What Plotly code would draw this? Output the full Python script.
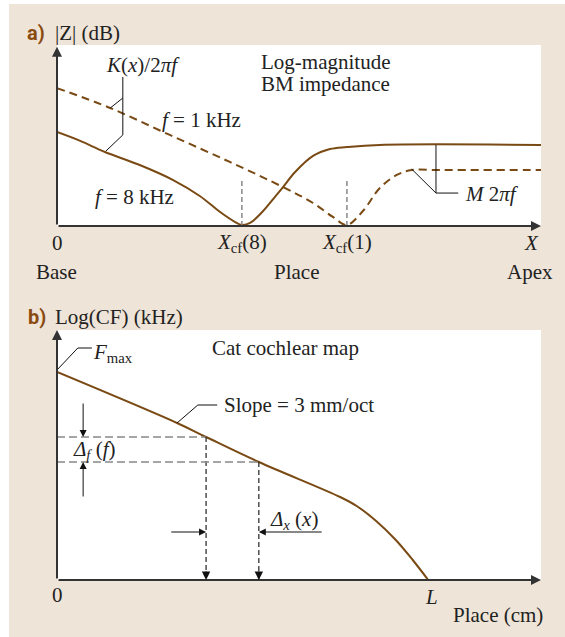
import plotly.graph_objects as go

W, H = 565, 637

# panel a: log-magnitude BM impedance along the cochlea (arbitrary units)
place_8k = [0, 0.48, 0.99, 1.71, 2.40, 2.95, 3.37, 3.68, 3.82, 3.99, 4.24, 4.50,
            4.67, 4.92, 5.29, 5.64, 5.99, 6.67, 10]
z_8k = [5.19, 4.70, 4.09, 3.37, 2.54, 1.66, 0.77, 0.22, 0.06, 0.17, 0.77, 1.60,
        2.15, 2.98, 3.87, 4.25, 4.36, 4.48, 4.48]
place_1k = [0, 1.10, 2.33, 3.57, 4.67, 5.29, 5.70, 5.99, 6.32, 6.67, 7.02, 7.33, 7.91, 10]
z_1k = [7.62, 6.52, 5.03, 3.54, 2.15, 1.27, 0.50, 0.06, 0.83, 2.10, 2.82, 3.09, 3.09, 3.09]
xcf = [3.82, 5.99]
xcf_labels = ['<i>X</i><sub>cf</sub>(8)', '<i>X</i><sub>cf</sub>(1)']

# panel b: cat cochlear map
place_b = [0, 2.48, 3.08, 4.17, 5.85, 6.2, 6.6, 7.0, 7.35, 7.67]
logcf = [8.32, 6.28, 5.72, 4.72, 3.32, 2.95, 2.35, 1.6, 0.8, 0]
x_marks = [3.08, 4.17]
f_marks = [5.72, 4.72]

BROWN = '#7A4A14'
SERIF = 'Liberation Serif'
FS = 21


def px(x):
    return x / W


def py(y):
    return 1 - y / H


fig = go.Figure()

# panel a curves
fig.add_trace(go.Scatter(x=place_1k, y=z_1k, mode='lines', line_shape='spline',
                         line=dict(color=BROWN, width=2, dash='8px,5px'),
                         xaxis='x', yaxis='y'))
fig.add_trace(go.Scatter(x=place_8k, y=z_8k, mode='lines', line_shape='spline',
                         line=dict(color=BROWN, width=2), xaxis='x', yaxis='y'))
for xc in xcf:
    fig.add_trace(go.Scatter(x=[xc, xc], y=[0, 2.54], mode='lines',
                             line=dict(color='#888', width=1.5, dash='5px,3px'),
                             xaxis='x', yaxis='y'))

# panel b curve and marks
fig.add_trace(go.Scatter(x=place_b, y=logcf, mode='lines', line_shape='spline',
                         line=dict(color=BROWN, width=2), xaxis='x2', yaxis='y2'))
for xm, fm in zip(x_marks, f_marks):
    fig.add_trace(go.Scatter(x=[0, xm], y=[fm, fm], mode='lines',
                             line=dict(color='#888', width=1.5, dash='8px,4px'),
                             xaxis='x2', yaxis='y2'))
    fig.add_trace(go.Scatter(x=[xm, xm], y=[fm, 0], mode='lines',
                             line=dict(color='#222', width=1.2, dash='5px,3px'),
                             xaxis='x2', yaxis='y2'))

shapes = [
    dict(type='rect', xref='paper', yref='paper', x0=0, x1=px(9), y0=0, y1=1,
         fillcolor='white', line_width=0, layer='above'),
    dict(type='rect', xref='paper', yref='paper', x0=0, x1=1, y0=py(4), y1=1,
         fillcolor='white', line_width=0, layer='above'),
]


def leader(pts, xr, yr):
    d = 'M ' + ' L '.join(f'{a},{b}' for a, b in pts)
    shapes.append(dict(type='path', path=d, xref=xr, yref=yr,
                       line=dict(color='#111', width=1)))


# leader lines
leader([(1.10, 6.52), (1.36, 7.07)], 'x', 'y')
leader([(1.36, 8.23), (1.36, 5.03), (1.01, 4.14)], 'x', 'y')
leader([(7.83, 4.48), (7.83, 1.82), (8.29, 1.82)], 'x', 'y')
leader([(7.33, 3.14), (7.83, 1.82)], 'x', 'y')
leader([(0, 8.4), (0.43, 9.28), (0.72, 9.28)], 'x2', 'y2')
leader([(2.48, 6.28), (2.91, 7.0), (3.31, 7.0)], 'x2', 'y2')

annotations = []


def arrow(x, y, ax, ay, xr, yr, width=1, size=1.4, color='#111'):
    annotations.append(dict(x=x, y=y, ax=ax, ay=ay, xref=xr, yref=yr,
                            axref=xr, ayref=yr, text='', showarrow=True,
                            arrowhead=2, arrowsize=size, arrowwidth=width,
                            arrowcolor=color))


# axes
arrow(0, 9.9, 0, 0, 'x', 'y', width=2, size=1, color='#333')
arrow(10, 0, 0, 0, 'x', 'y', width=2, size=1, color='#333')
arrow(0, 10, 0, 0, 'x2', 'y2', width=2, size=1, color='#333')
arrow(10, 0, 0, 0, 'x2', 'y2', width=2, size=1, color='#333')

# panel b arrows
arrow(0.54, 5.72, 0.54, 7.12, 'x2', 'y2')
arrow(0.54, 4.72, 0.54, 3.28, 'x2', 'y2')
arrow(3.08, 1.92, 2.33, 1.92, 'x2', 'y2')
arrow(4.17, 1.92, 5.50, 1.92, 'x2', 'y2')
for xm in x_marks:
    annotations.append(dict(x=xm, y=0, ax=0, ay=-10, xref='x2', yref='y2',
                            text='', showarrow=True, arrowhead=2, arrowsize=1.4,
                            arrowwidth=1.2, arrowcolor='#111'))


def label(text, x, y, anchor='left', size=FS, family=SERIF, color='#222'):
    annotations.append(dict(text=text, x=px(x), y=py(y), xref='paper', yref='paper',
                            xanchor=anchor, yanchor='middle', showarrow=False,
                            font=dict(family=family, size=size, color=color)))


# panel a texts
label('<b>a)</b>', 25, 33, family='Roboto', size=20, color='#8A4B10')
label('|Z| (dB)', 53, 33)
label('<i>K</i>(<i>x</i>)/2<i>πf</i>', 143, 65, anchor='center')
label('Log-magnitude', 259, 62)
label('BM impedance', 259, 84)
label('<i>f</i> = 1 kHz', 160, 120)
label('<i>f</i> = 8 kHz', 93, 197)
label('<i>M</i> 2<i>πf</i>', 463, 194)
label('0', 57, 243, anchor='center')
label(xcf_labels[0], 242, 243, anchor='center')
label(xcf_labels[1], 347, 243, anchor='center')
label('<i>X</i>', 531, 243, anchor='center')
label('Base', 34, 272)
label('Place', 296, 272, anchor='center')
label('Apex', 555, 272, anchor='right')

# panel b texts
label('<b>b)</b>', 26, 317, family='Roboto', size=20, color='#8A4B10')
label('Log(CF) (kHz)', 53, 317)
label('Cat cochlear map', 210, 348)
label('<i>F</i><sub>max</sub>', 91, 353)
label('Slope = 3 mm/oct', 222, 405)
label('<i>Δ<sub>f</sub></i> (<i>f</i>)', 71, 450)
label('<i>Δ<sub>x</sub></i> (<i>x</i>)', 268, 520)
label('0', 57, 595, anchor='center')
label('<i>L</i>', 431, 597, anchor='center')
label('Place (cm)', 545, 615, anchor='right')

fig.update_layout(
    width=W, height=H,
    margin=dict(l=0, r=0, t=0, b=0),
    paper_bgcolor='#EEE4D8',
    plot_bgcolor='white',
    showlegend=False,
    hovermode=False,
    xaxis=dict(domain=[px(57), px(541)], range=[0, 10], visible=False),
    yaxis=dict(domain=[py(226), py(45)], range=[0, 10], visible=False),
    xaxis2=dict(domain=[px(57), px(541)], range=[0, 10], anchor='y2', visible=False),
    yaxis2=dict(domain=[py(580), py(330)], range=[0, 10], anchor='x2', visible=False),
    shapes=shapes,
    annotations=annotations,
)

fig.write_html("out.html", config={'displayModeBar': False},
               post_script="document.body.style.margin='0';")
